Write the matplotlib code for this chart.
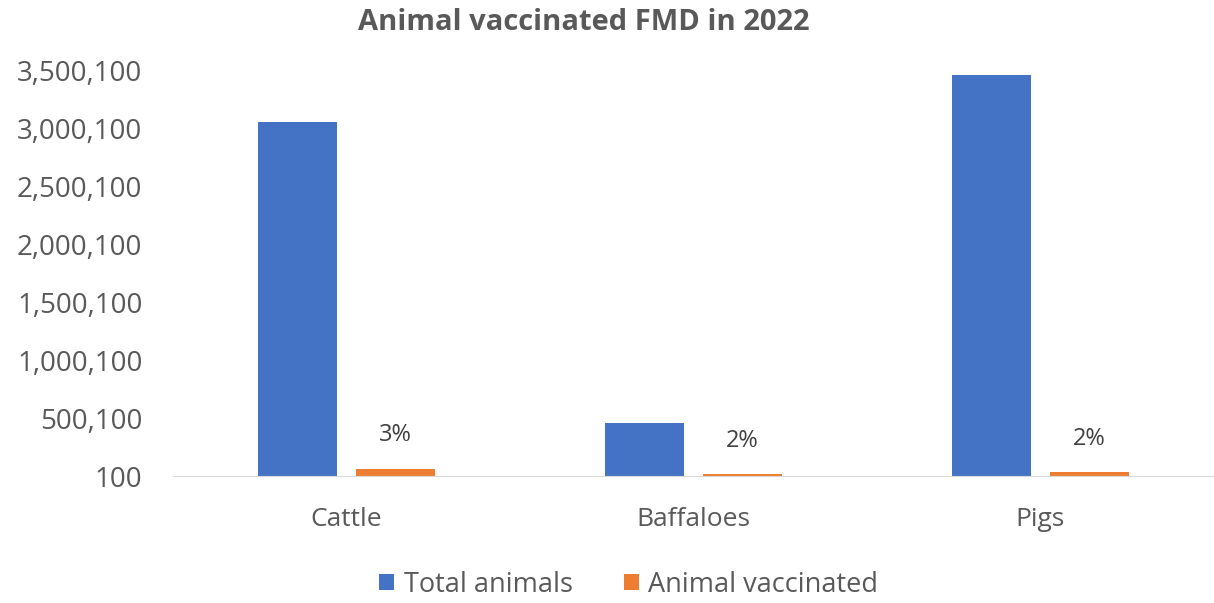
import matplotlib
matplotlib.use("Agg")
import matplotlib.pyplot as plt
import numpy as np

plt.rcParams['font.family'] = ['Open Sans', 'DejaVu Sans']

categories = ["Cattle", "Baffaloes", "Pigs"]
total_animals = [3050000, 457000, 3455000]
animal_vaccinated = [63000, 14000, 33000]
vacc_labels = ["3%", "2%", "2%"]
yticks = [100, 500100, 1000100, 1500100, 2000100, 2500100, 3000100, 3500100]

blue = "#4472C4"
orange = "#ED7D31"
grey = "#595959"

fig = plt.figure(figsize=(12.14, 6.03), dpi=100)
ax = fig.add_axes([0.1425, 0.2106, 0.8575, 0.6733])

x = np.arange(len(categories))
w = 0.227
off = 0.141
b1 = ax.bar(x - off, total_animals, w, color=blue, label="Total animals")
b2 = ax.bar(x + off, animal_vaccinated, w, color=orange, label="Animal vaccinated")

# percentage labels above the vaccinated bars
for xi, v, lab in zip(x, animal_vaccinated, vacc_labels):
    ax.annotate(lab, (xi + off, max(v, 100)), xytext=(0, 24), textcoords="offset points",
                ha="center", va="center", fontsize=17, color="#404040")

ax.set_xlim(-0.5, 2.5)
ax.set_ylim(100, 3500100)
ax.set_yticks(yticks)
ax.set_yticklabels([f"{t:,}" for t in yticks])
ax.set_xticks(x)
ax.set_xticklabels(categories)
ax.tick_params(axis="y", length=0, labelsize=20, colors=grey, pad=22)
ax.tick_params(axis="x", length=0, labelsize=19, colors=grey, pad=22)
for s in ["top", "right", "left"]:
    ax.spines[s].set_visible(False)
ax.spines["bottom"].set_color("#D9D9D9")

fig.text(0.481, 0.963, "Animal vaccinated FMD in 2022", ha="center", va="center",
         fontsize=21, fontweight="bold", color=grey)

fig.legend(handles=[b1, b2], loc="center", bbox_to_anchor=(0.518, 0.03), ncol=2,
           frameon=False, fontsize=19.5, labelcolor=grey, handlelength=0.55,
           handleheight=0.55, handletextpad=0.35, columnspacing=1.9)

fig.savefig("out.png", dpi=100)
